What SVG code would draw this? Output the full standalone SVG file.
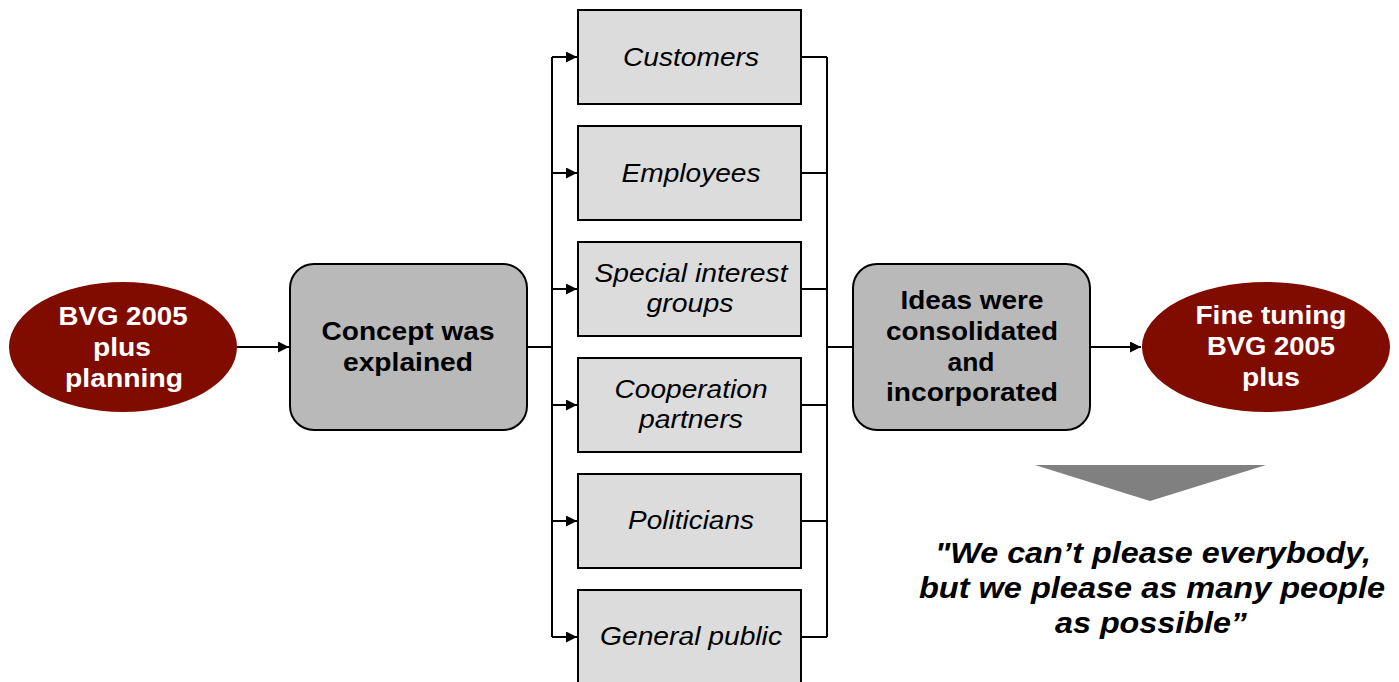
<svg xmlns="http://www.w3.org/2000/svg" width="1399" height="682" viewBox="0 0 1399 682">
  <style>
    .oval { fill: #800C00; }
    .oval-text { fill: #FFFFFF; font-family: "Liberation Sans", Arial, sans-serif; font-size: 26px; font-weight: bold; text-anchor: middle; }
    .step { fill: #B9B9B9; stroke: #000000; stroke-width: 2; }
    .step-text { fill: #000000; font-family: "Liberation Sans", Arial, sans-serif; font-size: 26px; font-weight: bold; text-anchor: middle; }
    .group { fill: #DCDCDC; stroke: #000000; stroke-width: 2; }
    .group-text { fill: #000000; font-family: "Liberation Sans", Arial, sans-serif; font-size: 26px; font-style: italic; text-anchor: middle; }
    .wire { fill: none; stroke: #000000; stroke-width: 2; }
    .quote { fill: #000000; font-family: "Liberation Sans", Arial, sans-serif; font-size: 29px; font-weight: bold; font-style: italic; text-anchor: middle; }
  </style>
  <defs>
    <marker id="arrow" markerWidth="11" markerHeight="11" refX="11" refY="5.5" orient="auto" markerUnits="userSpaceOnUse">
      <path d="M0,0 L11,5.5 L0,11 Z" fill="#000000"/>
    </marker>
  </defs>

  <rect width="1399" height="682" fill="#FFFFFF"/>

  <!-- connectors: fan-out bus on the left, fan-in bus on the right -->
  <g id="connectors">
    <line class="wire" x1="237" y1="347" x2="289" y2="347" marker-end="url(#arrow)"/>
    <line class="wire" x1="527" y1="347" x2="552" y2="347"/>
    <line class="wire" x1="552" y1="57" x2="552" y2="637"/>
    <line class="wire" x1="552" y1="57" x2="577" y2="57" marker-end="url(#arrow)"/>
    <line class="wire" x1="552" y1="173" x2="577" y2="173" marker-end="url(#arrow)"/>
    <line class="wire" x1="552" y1="289" x2="577" y2="289" marker-end="url(#arrow)"/>
    <line class="wire" x1="552" y1="405" x2="577" y2="405" marker-end="url(#arrow)"/>
    <line class="wire" x1="552" y1="521" x2="577" y2="521" marker-end="url(#arrow)"/>
    <line class="wire" x1="552" y1="637" x2="577" y2="637" marker-end="url(#arrow)"/>
    <line class="wire" x1="801" y1="57" x2="827" y2="57"/>
    <line class="wire" x1="801" y1="173" x2="827" y2="173"/>
    <line class="wire" x1="801" y1="289" x2="827" y2="289"/>
    <line class="wire" x1="801" y1="405" x2="827" y2="405"/>
    <line class="wire" x1="801" y1="521" x2="827" y2="521"/>
    <line class="wire" x1="801" y1="637" x2="827" y2="637"/>
    <line class="wire" x1="827" y1="57" x2="827" y2="637"/>
    <line class="wire" x1="827" y1="347" x2="853" y2="347"/>
    <line class="wire" x1="1090" y1="347" x2="1141" y2="347" marker-end="url(#arrow)"/>
  </g>

  <g id="start">
    <ellipse class="oval" cx="123" cy="347" rx="114" ry="65"/>
    <text class="oval-text" x="123" y="325" textLength="129" lengthAdjust="spacingAndGlyphs">BVG 2005</text>
    <text class="oval-text" x="122" y="356" textLength="58" lengthAdjust="spacingAndGlyphs">plus</text>
    <text class="oval-text" x="124" y="387" textLength="118" lengthAdjust="spacingAndGlyphs">planning</text>
  </g>

  <g id="concept">
    <rect class="step" x="290" y="264" width="237" height="166" rx="24"/>
    <text class="step-text" x="408" y="340" textLength="173" lengthAdjust="spacingAndGlyphs">Concept was</text>
    <text class="step-text" x="408" y="371" textLength="130" lengthAdjust="spacingAndGlyphs">explained</text>
  </g>

  <g id="customers">
    <rect class="group" x="578" y="10" width="223" height="94"/>
    <text class="group-text" x="691" y="66" textLength="136" lengthAdjust="spacingAndGlyphs">Customers</text>
  </g>
  <g id="employees">
    <rect class="group" x="578" y="126" width="223" height="94"/>
    <text class="group-text" x="691" y="182" textLength="139" lengthAdjust="spacingAndGlyphs">Employees</text>
  </g>
  <g id="special-interest">
    <rect class="group" x="578" y="242" width="223" height="94"/>
    <text class="group-text" x="691" y="282" textLength="193" lengthAdjust="spacingAndGlyphs">Special interest</text>
    <text class="group-text" x="690" y="312" textLength="87" lengthAdjust="spacingAndGlyphs">groups</text>
  </g>
  <g id="cooperation">
    <rect class="group" x="578" y="358" width="223" height="94"/>
    <text class="group-text" x="691" y="398" textLength="153" lengthAdjust="spacingAndGlyphs">Cooperation</text>
    <text class="group-text" x="691" y="428" textLength="104" lengthAdjust="spacingAndGlyphs">partners</text>
  </g>
  <g id="politicians">
    <rect class="group" x="578" y="474" width="223" height="94"/>
    <text class="group-text" x="691" y="529" textLength="126" lengthAdjust="spacingAndGlyphs">Politicians</text>
  </g>
  <g id="general-public">
    <rect class="group" x="578" y="590" width="223" height="100"/>
    <text class="group-text" x="691" y="645" textLength="182" lengthAdjust="spacingAndGlyphs">General public</text>
  </g>

  <g id="ideas">
    <rect class="step" x="853" y="264" width="237" height="166" rx="24"/>
    <text class="step-text" x="972" y="309" textLength="143" lengthAdjust="spacingAndGlyphs">Ideas were</text>
    <text class="step-text" x="972" y="340" textLength="172" lengthAdjust="spacingAndGlyphs">consolidated</text>
    <text class="step-text" x="971" y="371" textLength="47" lengthAdjust="spacingAndGlyphs">and</text>
    <text class="step-text" x="972" y="401" textLength="172" lengthAdjust="spacingAndGlyphs">incorporated</text>
  </g>

  <g id="fine-tuning">
    <ellipse class="oval" cx="1266" cy="347" rx="124" ry="65"/>
    <text class="oval-text" x="1271" y="324" textLength="151" lengthAdjust="spacingAndGlyphs">Fine tuning</text>
    <text class="oval-text" x="1271" y="355" textLength="128" lengthAdjust="spacingAndGlyphs">BVG 2005</text>
    <text class="oval-text" x="1271" y="386" textLength="58" lengthAdjust="spacingAndGlyphs">plus</text>
  </g>

  <g id="conclusion">
    <polygon points="1035,465 1266,465 1150,501" fill="#808080"/>
    <text class="quote" x="1153" y="563" textLength="436" lengthAdjust="spacingAndGlyphs">"We can’t please everybody,</text>
    <text class="quote" x="1152" y="598" textLength="466" lengthAdjust="spacingAndGlyphs">but we please as many people</text>
    <text class="quote" x="1151" y="633" textLength="192" lengthAdjust="spacingAndGlyphs">as possible”</text>
  </g>
</svg>
